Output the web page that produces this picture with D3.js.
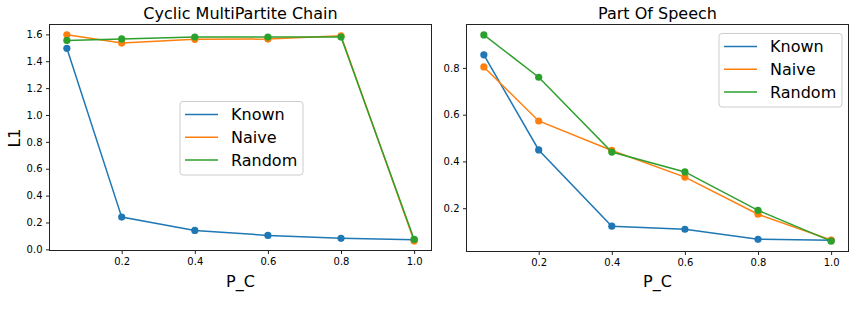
<!DOCTYPE html>
<html>
<head>
<meta charset="utf-8">
<script src="https://cdn.jsdelivr.net/npm/d3@7"></script>
<style>
body { margin: 0; background: #fff; }
text { font-family: "DejaVu Sans", sans-serif; fill: #000; }
</style>
</head>
<body>
<div id="chart"></div>
<script>
var pc = [0.05, 0.2, 0.4, 0.6, 0.8, 1.0]
var xTicks = [0.2, 0.4, 0.6, 0.8, 1.0]
var names = ["Known", "Naive", "Random"]
var colors = ["#1f77b4", "#ff7f0e", "#2ca02c"]

// Cyclic MultiPartite Chain
var cycKnown = [1.496, 0.240, 0.141, 0.104, 0.082, 0.072]
var cycNaive = [1.597, 1.535, 1.563, 1.565, 1.589, 0.062]
var cycRandom = [1.555, 1.566, 1.580, 1.580, 1.580, 0.074]
var cycTicks = [0.0, 0.2, 0.4, 0.6, 0.8, 1.0, 1.2, 1.4, 1.6]

// Part Of Speech
var posKnown = [0.856, 0.449, 0.123, 0.110, 0.067, 0.063]
var posNaive = [0.804, 0.573, 0.447, 0.333, 0.174, 0.064]
var posRandom = [0.941, 0.760, 0.440, 0.355, 0.191, 0.059]
var posTicks = [0.2, 0.4, 0.6, 0.8]

var svg = d3.select('#chart')
  .append('svg')
  .attr('width', 856)
  .attr('height', 312)

function panel(opt) {
  var x = d3.scaleLinear().domain([0.0025, 1.0475]).range([opt.left, opt.right])
  var y = d3.scaleLinear().domain(opt.ydom).range([opt.bottom, opt.top])
  var g = svg.append('g')

  var xa = g.append('g')
    .attr('transform', 'translate(0,' + opt.bottom + ')')
    .call(d3.axisBottom(x).tickValues(xTicks).tickFormat(d3.format('.1f')).tickSizeOuter(0).tickSize(3.5).tickPadding(3.5))
  var ya = g.append('g')
    .attr('transform', 'translate(' + opt.left + ',0)')
    .call(d3.axisLeft(y).tickValues(opt.ticks).tickFormat(d3.format('.1f')).tickSizeOuter(0).tickSize(3.5).tickPadding(3.5))
  g.selectAll('.domain').remove()
  g.selectAll('.tick text').attr('font-size', 10).attr('font-family', 'DejaVu Sans').attr('fill', '#222')
  g.selectAll('.tick line').attr('stroke', '#222')

  var series = opt.series
  series.forEach(function(s, k) {
    var line = d3.line().x(function(d, i) { return x(pc[i]) }).y(function(d) { return y(d) })
    g.append('path')
      .datum(s)
      .attr('d', line)
      .attr('fill', 'none')
      .attr('stroke', colors[k])
      .attr('stroke-width', 1.5)
    g.selectAll('.pt' + k)
      .data(s)
      .enter().append('circle')
      .attr('cx', function(d, i) { return x(pc[i]) })
      .attr('cy', function(d) { return y(d) })
      .attr('r', 3.6)
      .attr('fill', colors[k])
  })

  g.append('rect')
    .attr('x', opt.left).attr('y', opt.top)
    .attr('width', opt.right - opt.left).attr('height', opt.bottom - opt.top)
    .attr('fill', 'none').attr('stroke', '#222').attr('stroke-width', 1)

  g.append('text')
    .attr('x', (opt.left + opt.right) / 2).attr('y', 19)
    .attr('text-anchor', 'middle').attr('font-size', 16)
    .text(opt.title)
  g.append('text')
    .attr('x', (opt.left + opt.right) / 2).attr('y', 287)
    .attr('text-anchor', 'middle').attr('font-size', 16)
    .text('P_C')

  var lg = g.append('g').attr('transform', 'translate(' + opt.lx + ',' + opt.ly + ')')
  lg.append('rect')
    .attr('width', 123).attr('height', 73.5).attr('rx', 3)
    .attr('fill', '#fff').attr('fill-opacity', 0.8)
    .attr('stroke', '#ccc').attr('stroke-width', 1)
  names.forEach(function(n, k) {
    var yy = 13 + k * 22.8
    lg.append('line')
      .attr('x1', 5).attr('x2', 38).attr('y1', yy).attr('y2', yy)
      .attr('stroke', colors[k]).attr('stroke-width', 1.5)
    lg.append('text')
      .attr('x', 51).attr('y', yy + 5.8)
      .attr('font-size', 16)
      .text(n)
  })
}

panel({
  left: 49.5, right: 431.5, top: 24.5, bottom: 250.5,
  ydom: [-0.0085, 1.6735], ticks: cycTicks,
  series: [cycKnown, cycNaive, cycRandom],
  title: 'Cyclic MultiPartite Chain', lx: 180, ly: 101.5
})
panel({
  left: 466.5, right: 848.5, top: 24.5, bottom: 251.5,
  ydom: [0.0148, 0.9856], ticks: posTicks,
  series: [posKnown, posNaive, posRandom],
  title: 'Part Of Speech', lx: 719, ly: 33.5
})

svg.append('text')
  .attr('transform', 'translate(20,138) rotate(-90)')
  .attr('text-anchor', 'middle').attr('font-size', 16)
  .text('L1')
</script>
</body>
</html>
